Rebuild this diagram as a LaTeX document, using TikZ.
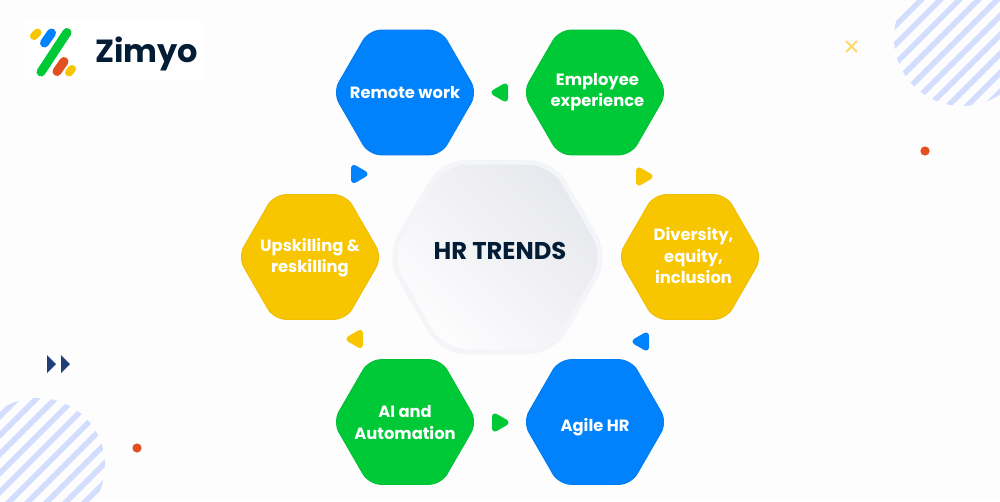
\documentclass[tikz,border=0pt]{standalone}
\usepackage{fontspec}
\setmainfont{Poppins}
\usetikzlibrary{shapes.geometric}
\definecolor{pagecol}{HTML}{FDFDFD}
\definecolor{hexblue}{HTML}{0082FC}
\definecolor{hexgreen}{HTML}{00C937}
\definecolor{hexyellow}{HTML}{F8C600}
\definecolor{inkcol}{HTML}{021D35}
\definecolor{stripecol}{HTML}{D3DEFF}
\definecolor{dotcol}{HTML}{E2501F}
\definecolor{navycol}{HTML}{1F3F77}
\definecolor{crosscol}{HTML}{FFD966}
\definecolor{halocol}{HTML}{F4F5F8}
\definecolor{shadelo}{HTML}{FDFDFE}
\definecolor{shadehi}{HTML}{E7E8ED}
% raise, sideways shift, text: takes no room, so the hexagon keeps its size
\newcommand{\hextext}[3]{\smash{\raisebox{#1}{\makebox[0pt]{\hspace*{#2}\begin{tabular}{@{}c@{}}#3\end{tabular}}}}}
\tikzset{
    hexbox/.style = {regular polygon, regular polygon sides = 6, minimum size = 2.88cm, inner sep = 0pt,
        rounded corners = 0.24cm, fill = #1, draw = #1!96!black, line width = 0.02cm, text = white,
        font = \fontsize{9.3pt}{12.2pt}\selectfont\bfseries},
    marker/.style = {regular polygon, regular polygon sides = 3, minimum size = 0.52cm, inner sep = 0pt,
        rounded corners = 0.12cm},
    markerright/.style = {marker, shape border rotate = -90},
    markerleft/.style = {marker, shape border rotate = 90},
    logobar/.style = {line width = 0.18cm, line cap = round},
    stripe/.style = {stripecol, line width = 0.11cm}
}
\begin{document}
\begin{tikzpicture} [x = 0.02cm, y = -0.02cm, node distance = 3.8cm]
        \useasboundingbox (0,0) rectangle (1000,501);
        \fill [pagecol] (0,0) rectangle (1000,501);

        % striped circles
        \begin{scope}
            \clip (962,38) circle (68);
            \foreach \k in {-7,...,7} \draw [stripe] (859+\k*19,138) -- (1059+\k*19,-62);
        \end{scope}
        \begin{scope}
            \clip (38,465) circle (67);
            \foreach \k in {-6,...,9} \draw [stripe] (-92+\k*19,565) -- (108+\k*19,365);
        \end{scope}

        % small decoration
        \draw [crosscol, line width = 0.04cm] (846,41) -- (857,52) (857,41) -- (846,52);
        \fill [dotcol] (925,151) circle (4.6);
        \fill [dotcol] (137,448) circle (4.6);
        \fill [navycol] (47,355) -- (56,364) -- (47,373) -- cycle;
        \fill [navycol] (61,355) -- (70,364) -- (61,373) -- cycle;

        % logo
        \fill [white] (25,22) rectangle (202,80);
        \draw [logobar, hexyellow, line width = 0.16cm] (34,36) -- (37.5,32.5);
        \draw [logobar, hexblue] (44.5,43) -- (51.5,33);
        \draw [logobar, hexgreen] (41,72) -- (67,32.5);
        \draw [logobar, dotcol] (57,71.5) -- (64,61.5);
        \draw [logobar, hexyellow, line width = 0.16cm] (69,72.5) -- (72,69);
        \node [text = inkcol, font = \fontsize{18.2pt}{20pt}\selectfont\bfseries] (zimyo) at (146.5,53.5) {Zimyo};

        % centre
        \node [regular polygon, regular polygon sides = 6, minimum size = 4.38cm, inner sep = 0pt,
            rounded corners = 0.48cm, draw = halocol, line width = 0.1cm, shade,
            bottom color = shadelo, top color = shadehi, shading angle = -45, text = inkcol,
            font = \fontsize{13.8pt}{16pt}\selectfont\bfseries] (trends) at (497.5,257) {\hextext{-2pt}{2.8pt}{HR TRENDS}};

        % ring
        \node [hexbox = hexblue] (remote) at (405,92.5) {\hextext{-3.4pt}{0pt}{Remote work}};
        \node [hexbox = hexgreen] (employee) [right of = remote] {\hextext{-1.7pt}{2.8pt}{Employee\\experience}};
        \node [hexbox = hexblue] (agile) at (595,422) {\hextext{-5.4pt}{0pt}{Agile HR}};
        \node [hexbox = hexgreen] (automation) [left of = agile] {\hextext{-3.5pt}{0pt}{AI and\\Automation}};
        \node [hexbox = hexyellow] (diversity) at (690,257) {\hextext{-2.8pt}{4pt}{Diversity,\\equity,\\inclusion}};
        \node [hexbox = hexyellow] (upskilling) at (310,257) {\hextext{-2.5pt}{0pt}{Upskilling \&\\reskilling}};

        % turning marks
        \node [markerleft, fill = hexgreen] (m1) at (501.5,92.5) {};
        \node [markerright, fill = hexyellow] (m2) at (642.5,176.5) {};
        \node [markerleft, fill = hexblue] (m3) at (642.5,341.5) {};
        \node [markerright, fill = hexgreen] (m4) at (498.5,422.5) {};
        \node [markerleft, fill = hexyellow] (m5) at (356.5,339) {};
        \node [markerright, fill = hexblue] (m6) at (357.5,174) {};
\end{tikzpicture}
\end{document}
